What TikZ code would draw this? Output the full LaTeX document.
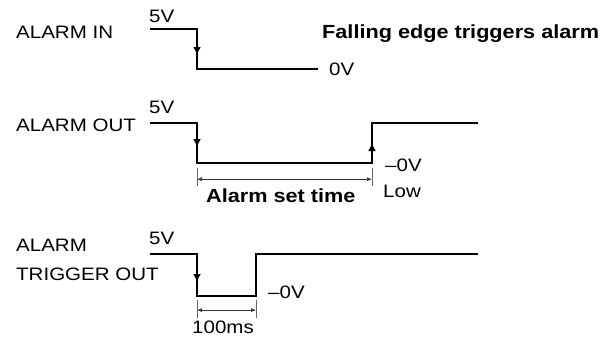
\documentclass[tikz,border=0pt]{standalone}
\usepackage{fontspec}
\setmainfont[FakeStretch=1.14]{Liberation Sans}
\usetikzlibrary{arrows.meta,calc}
\tikzset{
  sig/.style={line width=1.6pt, line join=miter},
  edgetip/.style={line width=1.6pt, -{Latex[length=8pt,width=8pt]}},
  dimline/.style={line width=0.7pt, black!80, {Latex[length=5pt,width=4pt]}-{Latex[length=5pt,width=4pt]}},
  tick/.style={line width=0.7pt, black!60},
  lbl/.style={anchor=base west, inner sep=0pt, font=\fontsize{18}{20}\selectfont},
  bold/.style={lbl, font=\fontsize{19}{21}\selectfont\bfseries}
}
\begin{document}
\begin{tikzpicture}[x=1pt,y=-1pt]
\useasboundingbox (0,0) rectangle (607,341);
% labels
\node[lbl] (inlbl) at (16,38) {ALARM IN};
\node[lbl] (in5v) at (149,22) {5V};
\node[bold] (note) at (322,38) {Falling edge triggers alarm};
\node[lbl] (in0v) at (329,75) {0V};
\node[lbl] (outlbl) at (16,131) {ALARM OUT};
\node[lbl] (out5v) at (149,113) {5V};
\node[lbl] (out0v) at (385,171) {--0V};
\node[lbl] (outlow) at (383,197) {Low};
\node[bold] (settime) at (206,202) {Alarm set time};
\node[lbl] (trglblA) at (16,251) {ALARM};
\node[lbl] (trglblB) at (16,280) {TRIGGER OUT};
\node[lbl] (trg5v) at (149,244) {5V};
\node[lbl] (trg0v) at (268,298) {--0V};
\node[lbl] (pulse) at (192,333) {100ms};
% alarm in
\coordinate (i1) at (150,29);
\coordinate (i2) at (197,29);
\coordinate (i3) at (197,69);
\coordinate (i4) at (318,69);
\coordinate (im) at (197,55);
\draw[sig] (i1)--(i2)--(i3)--(i4);
\draw[edgetip] (i2)--(im);
% alarm out
\coordinate (o1) at (150,123);
\coordinate (o2) at (197,123);
\coordinate (o3) at (197,163);
\coordinate (o4) at (372,163);
\coordinate (o5) at (372,123);
\coordinate (o6) at (478,123);
\coordinate (om) at (197,147);
\coordinate (on) at (372,143);
\draw[sig] (o1)--(o2)--(o3)--(o4)--(o5)--(o6);
\draw[edgetip] (o2)--(om);
\draw[edgetip] (o4)--(on);
\coordinate (oa) at (197,168);
\coordinate (ob) at (197,186);
\coordinate (oc) at (372,168);
\coordinate (od) at (372,186);
\draw[tick] (oa)--(ob);
\draw[tick] (oc)--(od);
\draw[dimline] ($(oa)!0.62!(ob)$)--($(oc)!0.62!(od)$);
% alarm trigger out
\coordinate (t1) at (150,254);
\coordinate (t2) at (197,254);
\coordinate (t3) at (197,296);
\coordinate (t4) at (256,296);
\coordinate (t5) at (256,254);
\coordinate (t6) at (478,254);
\coordinate (tm) at (197,282);
\draw[sig] (t1)--(t2)--(t3)--(t4)--(t5)--(t6);
\draw[edgetip] (t2)--(tm);
\coordinate (ta) at (197,300);
\coordinate (tb) at (197,318);
\coordinate (tc) at (256,300);
\coordinate (td) at (256,318);
\draw[tick] (ta)--(tb);
\draw[tick] (tc)--(td);
\draw[dimline] ($(ta)!0.56!(tb)$)--($(tc)!0.56!(td)$);
\end{tikzpicture}
\end{document}
